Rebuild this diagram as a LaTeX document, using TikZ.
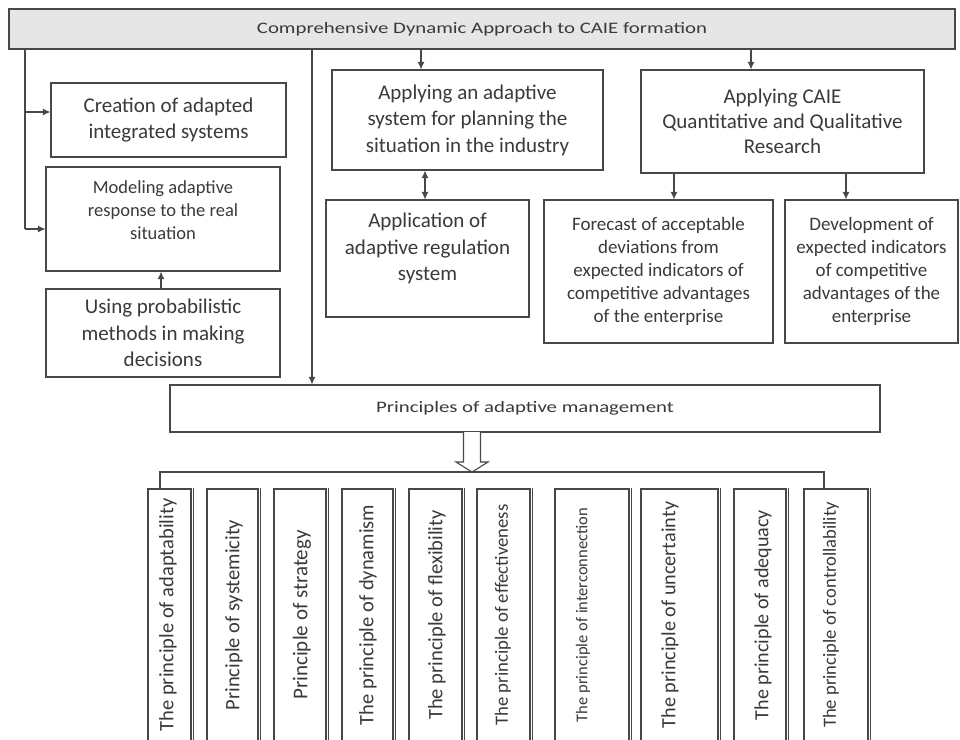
\documentclass[tikz,border=0pt]{standalone}
\usepackage{fontspec}
\usepackage{graphicx}
\setmainfont{Carlito}
\usetikzlibrary{arrows.meta,calc}
\definecolor{lncol}{HTML}{484848}
\definecolor{txcol}{HTML}{3A3A3A}
\definecolor{barfill}{HTML}{E6E6E6}
\begin{document}
\begin{tikzpicture}[x=1pt,y=-1pt,
  box/.style={draw=lncol, line width=1.2pt, inner sep=0pt, align=center, text=txcol},
  pbox/.style={draw=lncol, line width=1.2pt, inner sep=0pt},
  txt/.style={inner sep=0pt, align=center, text=txcol},
  conn/.style={draw=lncol, line width=1.1pt},
  arr/.style={draw=lncol, line width=1.1pt, -{Latex[length=7.5pt,width=7pt]}},
  darr/.style={draw=lncol, line width=1.1pt, {Latex[length=7.5pt,width=7pt]}-{Latex[length=7.5pt,width=7pt]}},
  big/.style={font=\fontsize{21}{26.5}\selectfont},
  mid/.style={font=\fontsize{19}{23}\selectfont}]
\useasboundingbox (0,0) rectangle (960,739);
\clip (0,0) rectangle (960,739);
\fill[white] (0,0) rectangle (960,739);

% top bar
\node[box, fill=barfill, minimum width=946pt, minimum height=40pt] (bar) at (482,29)
  {\fontsize{16}{19}\selectfont\scalebox{1.3}[1]{Comprehensive Dynamic Approach to CAIE formation}};

% left column
\node[box, big, minimum width=235pt, minimum height=74pt] (create) at (168.5,120)
  {Creation of adapted\\integrated systems};
\node[box, minimum width=234pt, minimum height=104pt] (model) at (163,219) {};
\node[txt, font=\fontsize{18.5}{23}\selectfont] at ([yshift=9pt]model.center)
  {Modeling adaptive\\response to the real\\situation};
\node[box, big, minimum width=234pt, minimum height=88pt] (using) at (163,333)
  {Using probabilistic\\methods in making\\decisions};

% middle column
\node[box, big, minimum width=271pt, minimum height=100pt] (adsys) at (467.5,120)
  {Applying an adaptive\\system for planning the\\situation in the industry};
\node[box, minimum width=203pt, minimum height=117pt] (reg) at (427.5,258.5) {};
\node[txt, big] at ([yshift=10pt]reg.center)
  {Application of\\adaptive regulation\\system};

% right column
\node[box, font=\fontsize{21}{25}\selectfont, minimum width=283pt, minimum height=103pt] (caie) at (782.5,121.5)
  {Applying CAIE\\Quantitative and Qualitative\\Research};
\node[box, mid, minimum width=229pt, minimum height=143pt] (fore) at (658.5,271.5)
  {Forecast of acceptable\\deviations from\\expected indicators of\\competitive advantages\\of the enterprise};
\node[box, mid, minimum width=173pt, minimum height=143pt] (dev) at (871.5,271.5)
  {Development of\\expected indicators\\of competitive\\advantages of the\\enterprise};

% principles
\node[box, minimum width=710pt, minimum height=47pt] (princ) at (525,408.5)
  {\fontsize{16}{19}\selectfont\scalebox{1.3}[1]{Principles of adaptive management}};

% principle boxes
\foreach \i/\xl/\xr/\tx/\fsz/\lab in {
  1/148/191/168/20.5/The principle of adaptability,
  2/207/258/234/20.5/Principle of systemicity,
  3/274/326/302/21/Principle of strategy,
  4/342/393/368/20.5/The principle of dynamism,
  5/409/462/437/20.5/The principle of flexibility,
  6/477/530/503/18.7/The principle of effectiveness,
  7/555/629/583/16.5/The principle of interconnection,
  8/641/718/670/20.2/The principle of uncertainty,
  9/734/786/763/20.1/The principle of adequacy,
  10/804/868/831/18.6/The principle of controllability}{
  \node[pbox, minimum width=\xr pt-\xl pt, minimum height=254pt] (p\i) at ({(\xl+\xr)/2},616) {};
  \draw[lncol, line width=1pt] ([xshift=2.2pt]p\i.north east) -- ([xshift=2.2pt]p\i.south east);
  \node[txt, rotate=90, font=\fontsize{\fsz}{\fsz}\selectfont] at (\tx,615) {\lab};
}

% coordinates for connector positions
\coordinate (L1) at (25,112);
\coordinate (L2) at (25,229);
\coordinate (X161) at (161,0);
\coordinate (X312) at (312,0);
\coordinate (X421) at (421,0);
\coordinate (X425) at (425,0);
\coordinate (X674) at (674,0);
\coordinate (X751) at (751,0);
\coordinate (X846) at (846,0);
\coordinate (BL) at (160,472);
\coordinate (BR) at (824,472);

% connectors
\draw[conn] (bar.south -| L1) -- (L2);
\draw[arr] (L1) -- (L1 -| create.west);
\draw[arr] (L2) -- (L2 -| model.west);
\draw[arr] (using.north -| X161) -- (model.south -| X161);
\draw[arr] (bar.south -| X312) -- (princ.north -| X312);
\draw[arr] (bar.south -| X421) -- (adsys.north -| X421);
\draw[arr] (bar.south -| X751) -- (caie.north -| X751);
\draw[darr] (adsys.south -| X425) -- (reg.north -| X425);
\draw[arr] (caie.south -| X674) -- (fore.north -| X674);
\draw[arr] (caie.south -| X846) -- (dev.north -| X846);

% hollow arrow
\draw[lncol, line width=1.1pt, fill=white, line join=miter]
  (463.5,432) -- (463.5,462) -- (456,462) -- (472,472) -- (488,462) -- (480.5,462) -- (480.5,432);

% bracket to principle boxes
\draw[conn] (p1.north -| BL) -- (BL) -- (BR) -- (p10.north -| BR);
\end{tikzpicture}
\end{document}
